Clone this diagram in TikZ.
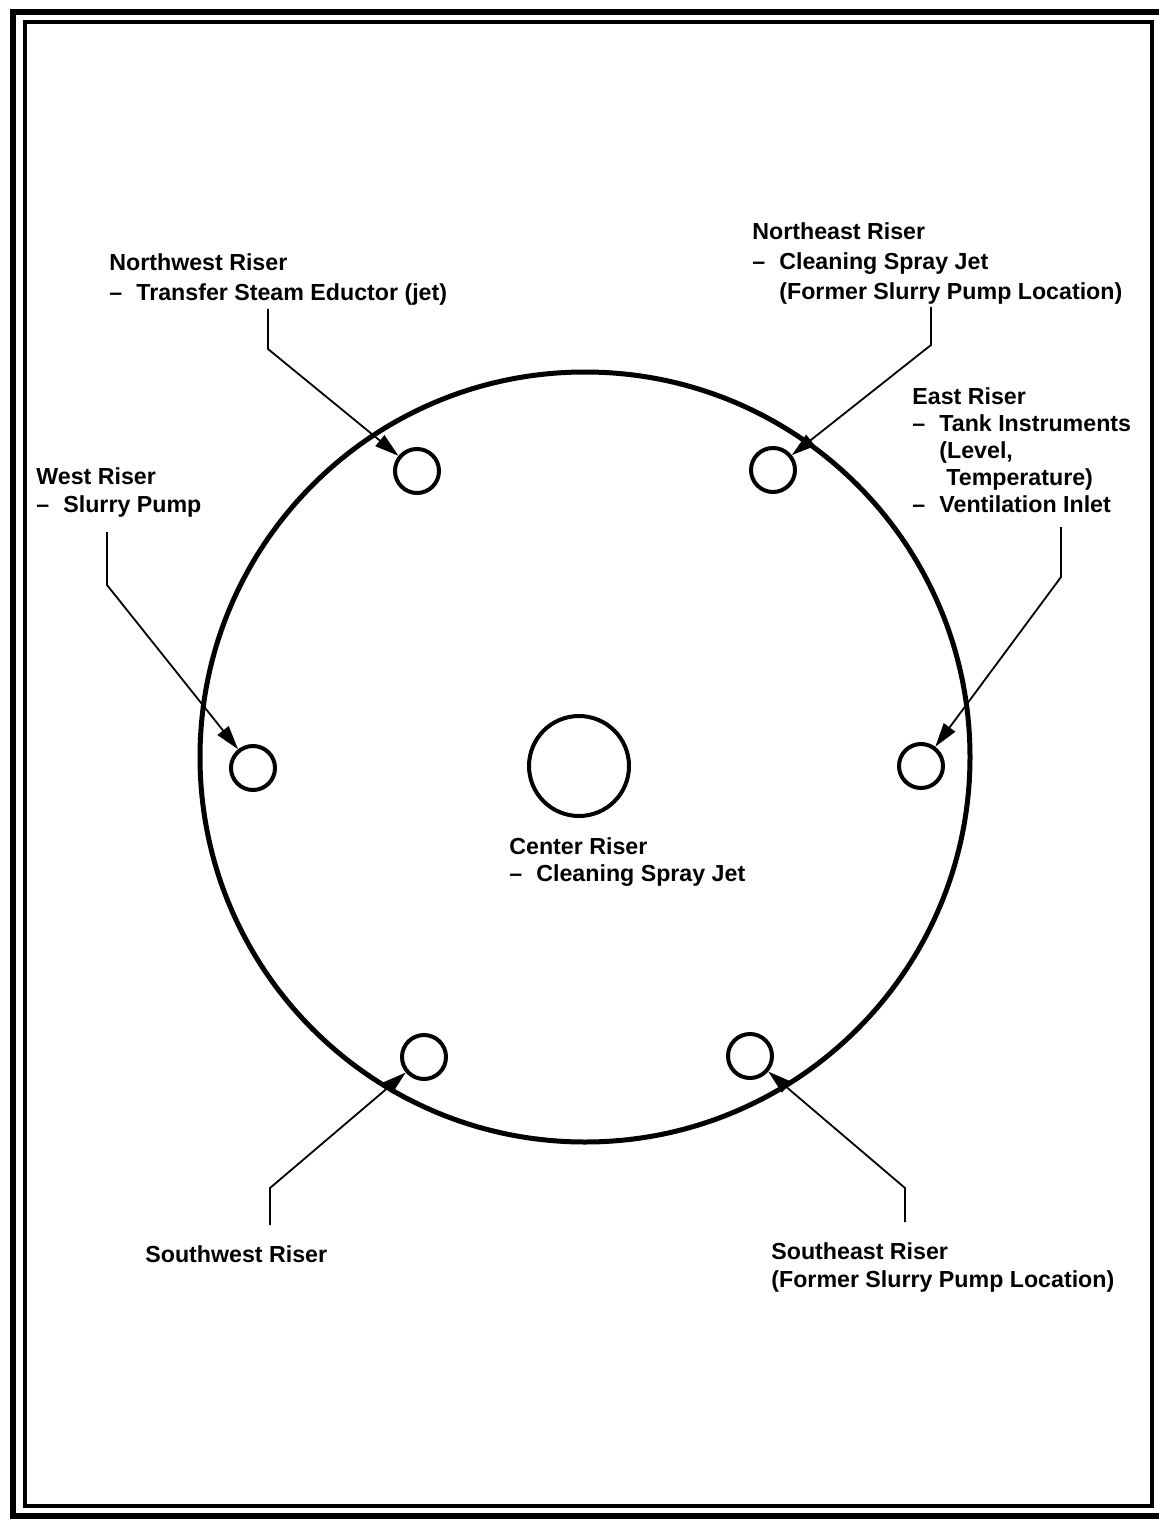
\documentclass[tikz,border=0pt]{standalone}
\usepackage{fontspec}
\setmainfont{Liberation Sans}
\usetikzlibrary{arrows.meta}
\newcommand\dsh{\makebox[13.5pt][l]{–}}
\newcommand\ind{\hspace*{13.5pt}}
\tikzset{
  riser/.style={circle,draw,line width=2pt,minimum size=22pt,inner sep=0pt},
  leader/.style={line width=0.9pt,-{Triangle[length=12pt,width=7pt]}},
  lbl/.style={anchor=base west,inner sep=0pt,align=left,font=\fontsize{11.6}{15}\selectfont\bfseries},
  lbltight/.style={lbl,font=\fontsize{11.6}{13.5}\selectfont\bfseries},
}
\begin{document}
\begin{tikzpicture}[x=0.5pt,y=-0.5pt]
\useasboundingbox (0,0) rectangle (1159,1519);
% frames
\draw[line width=3.3pt] (13,12) rectangle (1172,1516);
\draw[line width=2pt] (25,22) rectangle (1152,1506);
% tank
\node[circle,draw,line width=2.5pt,minimum size=385pt,inner sep=0pt] (tank) at (585,757) {};
\node[circle,draw,line width=2pt,minimum size=50pt,inner sep=0pt] (c) at (579,766) {};
\node[riser] (nw) at (417,471) {};
\node[riser] (ne) at (773,470) {};
\node[riser] (w) at (253,768) {};
\node[riser] (e) at (921,766) {};
\node[riser] (sw) at (424,1057) {};
\node[riser] (se) at (750,1056) {};
% labels (base anchor = baseline of last line)
\node[lbl] (tnw) at (109,301) {Northwest Riser\\\dsh Transfer Steam Eductor (jet)};
\node[lbl] (tne) at (752,300) {Northeast Riser\\\dsh Cleaning Spray Jet\\\ind(Former Slurry Pump Location)};
\node[lbltight] (te) at (912,512) {East Riser\\\dsh Tank Instruments\\\ind(Level,\\\ind\hspace*{3.5pt}Temperature)\\\dsh Ventilation Inlet};
\node[lbl,font=\fontsize{11.6}{14}\selectfont\bfseries] (tw) at (36,512) {West Riser\\\dsh Slurry Pump};
\node[lbltight] (tc) at (509,881) {Center Riser\\\dsh Cleaning Spray Jet};
\node[lbl] (tsw) at (145,1262) {Southwest Riser};
\node[lbl,font=\fontsize{11.6}{14}\selectfont\bfseries] (tse) at (771,1287) {Southeast Riser\\(Former Slurry Pump Location)};
% leaders
\coordinate (anw) at (268,309); \coordinate (bnw) at (268,349);
\coordinate (ane) at (931,307); \coordinate (bne) at (931,345);
\coordinate (aw) at (107,532); \coordinate (bw) at (107,585);
\coordinate (ae) at (1061,527); \coordinate (be) at (1061,577);
\coordinate (asw) at (270,1225); \coordinate (bsw) at (270,1188);
\coordinate (ase) at (905,1222); \coordinate (bse) at (905,1188);
\draw[leader] (anw) -- (bnw) -- (nw);
\draw[leader] (ane) -- (bne) -- (ne);
\draw[leader] (aw) -- (bw) -- (w);
\draw[leader] (ae) -- (be) -- (e);
\draw[leader] (asw) -- (bsw) -- (sw);
\draw[leader] (ase) -- (bse) -- (se);
\end{tikzpicture}
\end{document}
